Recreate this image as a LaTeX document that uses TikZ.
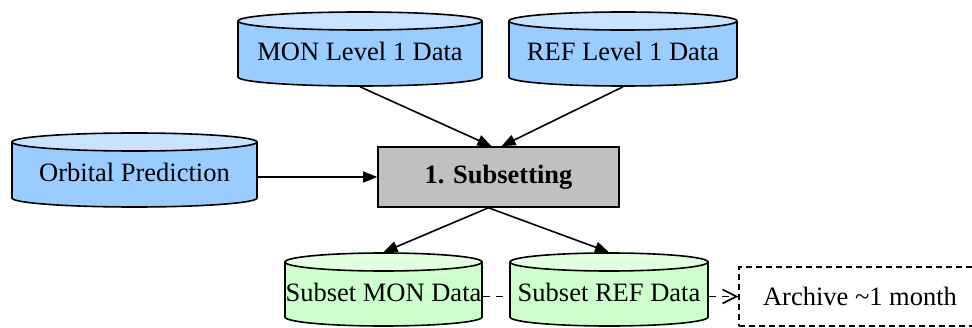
\documentclass[tikz,border=0pt]{standalone}
\usepackage{fontspec}
\setmainfont{Liberation Serif}
\usetikzlibrary{arrows.meta,calc}

\definecolor{bluebody}{HTML}{99CCFF}
\definecolor{bluetop}{HTML}{C8E3FF}
\definecolor{greenbody}{HTML}{CCFFCC}
\definecolor{greentop}{HTML}{E2FFE2}
\definecolor{procgray}{HTML}{C0C0C0}

% Data store drum: name, left x, right x, top y, bottom y, colour set, label
\newcommand\drum[7]{%
  \pgfmathsetmacro\dcx{(#2+#3)/2}%
  \pgfmathsetmacro\drx{(#3-#2)/2}%
  \pgfmathsetmacro\dtc{#4-9}%
  \pgfmathsetmacro\dbc{#5+9}%
  \pgfmathsetmacro\dmid{(#4+#5)/2}%
  \pgfmathsetmacro\dht{#4-#5}%
  \pgfmathsetmacro\dwd{#3-#2}%
  \pgfmathsetmacro\dbase{#5+25}%
  \fill[#6body] (#2,\dtc) -- (#2,\dbc)
    arc[start angle=180,end angle=360,x radius=\drx,y radius=9] -- (#3,\dtc) -- cycle;
  \draw (#2,\dtc) -- (#2,\dbc)
    arc[start angle=180,end angle=360,x radius=\drx,y radius=9] -- (#3,\dtc);
  \filldraw[fill=#6top] (\dcx,\dtc) ellipse[x radius=\drx,y radius=9];
  \node[inner sep=0pt,minimum width=\dwd pt,minimum height=\dht pt] (#1) at (\dcx,\dmid) {};
  \node[anchor=base,inner sep=0pt] (#1-label) at (\dcx,\dbase) {#7};
}

\begin{document}
\begin{tikzpicture}[x=1pt,y=1pt,line width=1.6pt,
  font=\fontsize{26.5}{30}\selectfont,
  procbox/.style={draw,fill=procgray,inner sep=0pt,minimum width=241pt,minimum height=60pt},
  archbox/.style={draw,dashed,dash pattern=on 6pt off 4pt,line width=1.4pt,inner sep=0pt,
    minimum width=242pt,minimum height=59pt,text depth=0pt},
  flow/.style={-{Triangle[length=14pt,width=11pt]}},
  dflow/.style={dashed,dash pattern=on 7pt off 6pt,line width=1.6pt},
  ]
\clip (0,0) rectangle (972,327);

% sources
\drum{mon}{238}{482}{315}{241}{blue}{MON Level 1 Data}
\drum{ref}{509}{737}{315}{241}{blue}{REF Level 1 Data}
\drum{orb}{12}{257}{194}{120}{blue}{Orbital Prediction}

% process
\node[procbox] (sub) at (498.5,150) {\bfseries 1. Subsetting};

% outputs
\drum{smon}{285}{482}{74}{1}{green}{Subset MON Data}
\drum{sref}{510}{708}{74}{1}{green}{Subset REF Data}
\node[archbox] (arch) at (860,30.5) {Archive \textasciitilde1 month};

% connectors
\draw[flow] (mon.south) -- ($(sub.north)+(-7,0)$);
\draw[flow] (ref.south) -- ($(sub.north)+(3,0)$);
\draw[flow] (orb.east |- sub.west) -- (sub.west);
\coordinate (fork) at ($(sub.south)+(-10,0)$);
\draw[flow] (fork) -- (smon.north);
\draw[flow] (fork) -- (sref.north);
\draw[dflow] (smon.east |- arch.west) -- (sref.west |- arch.west);
\draw[dflow,-{Straight Barb[length=14pt,width=14pt]}] (sref.east |- arch.west) -- (arch.west);
\end{tikzpicture}
\end{document}
